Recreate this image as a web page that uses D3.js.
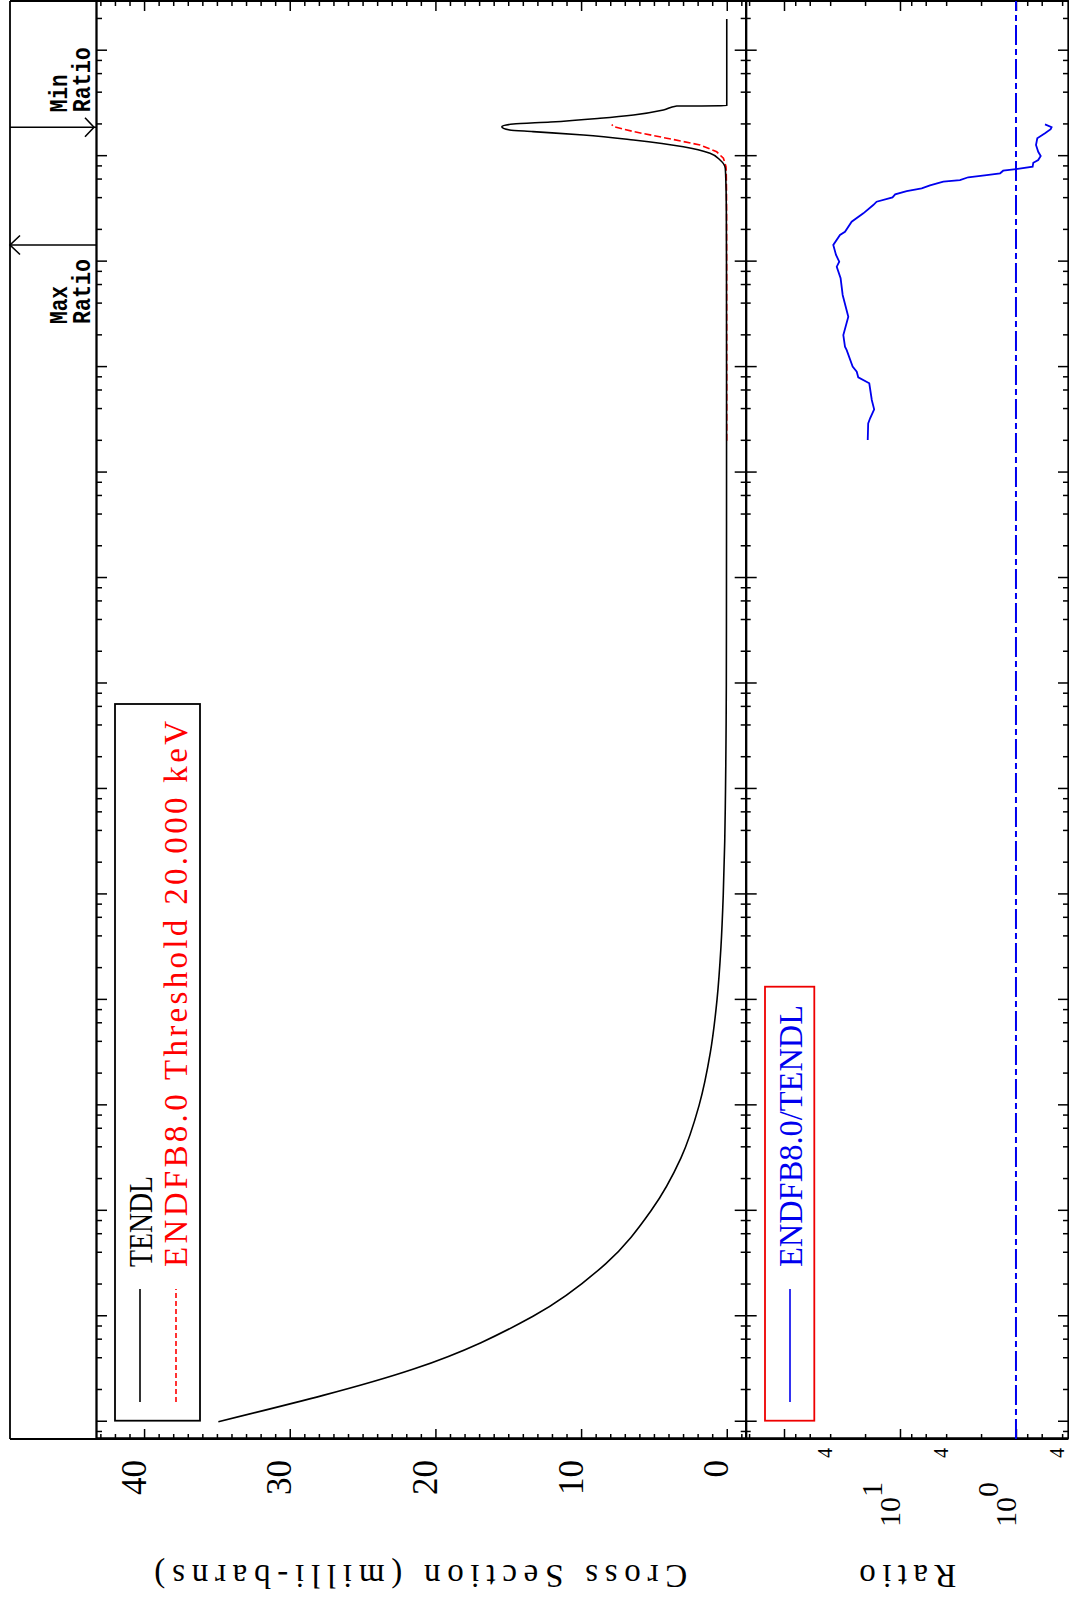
<!DOCTYPE html>
<html>
<head>
<meta charset="utf-8">
<script src="https://cdn.jsdelivr.net/npm/d3@7"></script>
<style>
  html, body { margin: 0; padding: 0; background: #fff; }
  svg { display: block; }
  .ax .domain { stroke: #000; stroke-width: 1.8; }
  .ax .tick line { stroke: #000; stroke-width: 1.5; }
  text { font-family: "Liberation Serif", serif; }
  text.mono { font-family: "Liberation Mono", monospace; font-weight: bold; }
</style>
</head>
<body>
<svg id="chart" width="1069" height="1600"></svg>
<script>
// ---------------- data ----------------
// TENDL cross section (energy in eV, cross section in milli-barns)
const tendlE  = [1e-5, 3.16e-5, 1e-4, 3.16e-4, 1e-3, 3.16e-3, 1e-2, 3.16e-2, 0.1, 0.316, 1, 3.16, 10, 31.6, 100, 1e3, 1e4, 1e5, 1e6, 3e6, 5e6, 7.67e6, 9.2e6, 1.065e7, 1.23e7, 1.425e7, 1.59e7, 1.71e7, 1.77e7, 1.905e7, 2.02e7, 2.11e7, 2.29e7, 2.46e7, 2.74e7, 2.99e7, 3.0e7, 2.0e8];
const tendlXS = [34.9, 21.5, 13.3, 8.3, 5.2, 3.15, 1.9, 1.13, 0.67, 0.4, 0.24, 0.14, 0.085, 0.05, 0.03, 0.02, 0.015, 0.015, 0.02, 0.03, 0.05, 0.1, 0.46, 1.15, 2.98, 6.4, 9.84, 13.3, 14.9, 15.44, 14.65, 12.1, 8.7, 6.4, 4.35, 3.43, 0, 0];

// ENDF/B-VIII.0 cross section (threshold 20 keV)
const endfE  = [2e4, 1e5, 1e6, 3e6, 5e6, 7e6, 7.95e6, 9.55e6, 1.10e7, 1.277e7, 1.48e7, 1.71e7, 1.905e7, 2.0e7];
const endfXS = [0.0, 0.0, 0.005, 0.01, 0.02, 0.035, 0.05, 0.23, 0.69, 1.83, 4.12, 6.4, 7.78, 7.89];

// Ratio ENDF/B-VIII.0 / TENDL
const ratioE = [2.04e4, 2.93e4, 3.27e4, 3.98e4, 4.88e4, 7.02e4, 8.0e4, 9.04e4, 1.01e5, 1.45e5, 1.56e5, 2.01e5, 3.0e5, 4.83e5, 6.95e5, 8.95e5, 9.98e5, 1.156e6, 1.438e6, 1.79e6, 1.92e6, 2.39e6, 2.87e6, 3.44e6, 3.70e6, 4.07e6, 4.35e6, 4.67e6, 4.96e6, 5.29e6, 5.73e6, 5.94e6, 6.31e6, 6.62e6, 6.88e6, 7.28e6, 7.55e6, 7.94e6, 8.67e6, 9.2e6, 1.005e7, 1.10e7, 1.277e7, 1.48e7, 1.65e7, 1.80e7, 1.88e7, 2.0e7];
const ratioV = [18.97, 18.8, 18.1, 16.7, 17.5, 18.4, 22.9, 23.6, 25.6, 28.8, 29.8, 30.8, 27.9, 31.2, 32.5, 35.1, 33.4, 35.6, 37.6, 32.9, 29.8, 26.1, 20.7, 17.0, 15.9, 11.6, 11.0, 8.75, 6.5, 5.51, 4.23, 3.04, 2.58, 1.79, 1.37, 1.29, 1.0, 0.718, 0.709, 0.643, 0.612, 0.643, 0.672, 0.655, 0.562, 0.502, 0.493, 0.562];

// axis tick labels
const csTickLabels = [0, 10, 20, 30, 40];
const ratioFourLabels = [40, 4, 0.4];
const ratioDecadeLabels = [{v: 10, exp: "1"}, {v: 1, exp: "0"}];
const refLine = [1];

// legend texts
const legendTop = [
  {label: "TENDL", color: "#000", dash: null},
  {label: "ENDFB8.0 Threshold 20.000 keV", color: "#ff0000", dash: "5,3"}
];
const legendBottom = [{label: "ENDFB8.0/TENDL", color: "#0000ee", dash: null}];

// ---------------- layout (original landscape frame, then rotated) ----------------
const uL = 161, uR = 1599;        // energy axis extent
const vTop = 10, vPlot = 96, vMid = 745.7, vBot = 1068;

const svg = d3.select("#chart");
const g = svg.append("g").attr("transform", "translate(0,1600) rotate(-90)");

const xE = d3.scaleLog().domain([6.86e-6, 2.96e8]).range([uL, uR]);
const yS = d3.scaleLinear().domain([-1.3, 43.3]).range([vMid, vPlot]);
const yR = d3.scaleLog().domain([0.356, 213.9]).range([vBot, vMid]);

// tick value sets
const eMajor = [], eMinor = [];
for (let k = -6; k <= 8; k++) {
  const d = Math.pow(10, k);
  if (d >= xE.domain()[0] && d <= xE.domain()[1]) eMajor.push(d);
  [2, 4, 6, 8].forEach(m => { const t = m * d; if (t >= xE.domain()[0] && t <= xE.domain()[1]) eMinor.push(t); });
}
const csMajor = d3.range(0, 41, 10), csMinor = d3.range(-1, 44, 1).filter(d => d % 10 !== 0);
const rMajor = [], rMinor = [];
for (let k = -1; k <= 2; k++) {
  const d = Math.pow(10, k);
  if (d >= yR.domain()[0] && d <= yR.domain()[1]) rMajor.push(d);
  [2, 4, 6, 8].forEach(m => { const t = m * d; if (t >= yR.domain()[0] && t <= yR.domain()[1]) rMinor.push(t); });
}

function axisAt(gen, tx, ty) {
  g.append("g").attr("class", "ax").attr("transform", `translate(${tx},${ty})`).call(gen);
}
// energy axes
axisAt(d3.axisTop(xE).tickValues(eMajor).tickSize(-11).tickSizeOuter(0).tickFormat(""), 0, vPlot);
axisAt(d3.axisTop(xE).tickValues(eMinor).tickSize(-6).tickSizeOuter(0).tickFormat(""), 0, vPlot);
axisAt(d3.axisTop(xE).tickValues(eMajor).tickSize(11).tickSizeOuter(0).tickFormat(""), 0, vMid);
axisAt(d3.axisTop(xE).tickValues(eMajor).tickSize(-11).tickSizeOuter(0).tickFormat(""), 0, vMid);
axisAt(d3.axisTop(xE).tickValues(eMinor).tickSize(5).tickSizeOuter(0).tickFormat(""), 0, vMid);
axisAt(d3.axisTop(xE).tickValues(eMinor).tickSize(-5).tickSizeOuter(0).tickFormat(""), 0, vMid);
axisAt(d3.axisBottom(xE).tickValues(eMajor).tickSize(-10).tickSizeOuter(0).tickFormat(""), 0, vBot);
axisAt(d3.axisBottom(xE).tickValues(eMinor).tickSize(-5).tickSizeOuter(0).tickFormat(""), 0, vBot);
// cross-section axes
axisAt(d3.axisLeft(yS).tickValues(csMajor).tickSize(-10).tickSizeOuter(0).tickFormat(""), uL, 0);
axisAt(d3.axisLeft(yS).tickValues(csMinor).tickSize(-5).tickSizeOuter(0).tickFormat(""), uL, 0);
axisAt(d3.axisRight(yS).tickValues(csMajor).tickSize(-10).tickSizeOuter(0).tickFormat(""), uR, 0);
axisAt(d3.axisRight(yS).tickValues(csMinor).tickSize(-5).tickSizeOuter(0).tickFormat(""), uR, 0);
// ratio axes
axisAt(d3.axisLeft(yR).tickValues(rMajor).tickSize(-10).tickSizeOuter(0).tickFormat(""), uL, 0);
axisAt(d3.axisLeft(yR).tickValues(rMinor).tickSize(-5).tickSizeOuter(0).tickFormat(""), uL, 0);
axisAt(d3.axisRight(yR).tickValues(rMajor).tickSize(-10).tickSizeOuter(0).tickFormat(""), uR, 0);
axisAt(d3.axisRight(yR).tickValues(rMinor).tickSize(-5).tickSizeOuter(0).tickFormat(""), uR, 0);

// outer frame
const frame = g.append("g").attr("stroke", "#000").attr("stroke-width", 1.8).attr("fill", "none");
frame.append("line").attr("x1", uL).attr("x2", uR).attr("y1", vTop).attr("y2", vTop);
frame.append("line").attr("x1", uL).attr("x2", uL).attr("y1", vTop).attr("y2", vBot);
frame.append("line").attr("x1", uR).attr("x2", uR).attr("y1", vTop).attr("y2", vBot);

// fit text helper
function fit(sel, len) {
  const n = sel.node().getComputedTextLength();
  sel.attr("textLength", len).attr("lengthAdjust", n > len ? "spacingAndGlyphs" : "spacing");
  return sel;
}

// tick labels
csTickLabels.forEach(d => {
  g.append("text").attr("x", 140).attr("y", yS(d) + 1.5).attr("text-anchor", "end")
    .attr("font-size", 35).text(d);
});
ratioFourLabels.forEach(d => {
  g.append("text").attr("x", 152).attr("y", yR(d) + 1.5).attr("text-anchor", "end")
    .attr("font-size", 20).text("4");
});
ratioDecadeLabels.forEach(d => {
  const t = g.append("text").attr("x", 118).attr("y", yR(d.v)).attr("text-anchor", "end").attr("font-size", 30);
  t.append("tspan").text("10");
  t.append("tspan").attr("dy", -18).text(d.exp);
});

// axis titles
g.append("text").attr("transform", `translate(35,${(vPlot + vMid) / 2}) rotate(-90)`)
  .attr("text-anchor", "middle").attr("font-size", 33).text("Cross Section (milli-barns)")
  .call(s => fit(s, 533));
g.append("text").attr("transform", `translate(35,${(vMid + vBot) / 2 + 1}) rotate(-90)`)
  .attr("text-anchor", "middle").attr("font-size", 33).text("Ratio")
  .call(s => fit(s, 97));

// clip paths
const defs = svg.append("defs");
defs.append("clipPath").attr("id", "clipTop").append("rect")
  .attr("x", uL).attr("y", vPlot).attr("width", uR - uL).attr("height", vMid - vPlot);
defs.append("clipPath").attr("id", "clipBot").append("rect")
  .attr("x", uL).attr("y", vMid).attr("width", uR - uL).attr("height", vBot - vMid);

// curves
const lineCS = d3.line().x(d => xE(d[0])).y(d => yS(d[1]));
const lineR = d3.line().x(d => xE(d[0])).y(d => yR(d[1]));

const topG = g.append("g").attr("clip-path", "url(#clipTop)");
topG.append("path").datum(d3.zip(endfE, endfXS)).attr("d", lineCS)
  .attr("fill", "none").attr("stroke", "#ff0000").attr("stroke-width", 1.6).attr("stroke-dasharray", "7,3");
topG.append("path").datum(d3.zip(tendlE, tendlXS)).attr("d", lineCS.curve(d3.curveMonotoneX))
  .attr("fill", "none").attr("stroke", "#000").attr("stroke-width", 1.6);

const botG = g.append("g").attr("clip-path", "url(#clipBot)");
botG.selectAll(".ref").data(refLine).enter().append("line")
  .attr("x1", uL).attr("x2", uR).attr("y1", d => yR(d)).attr("y2", d => yR(d))
  .attr("stroke", "#0000ee").attr("stroke-width", 2).attr("stroke-dasharray", "20,4,6,4");
botG.append("path").datum(d3.zip(ratioE, ratioV)).attr("d", lineR)
  .attr("fill", "none").attr("stroke", "#0000ee").attr("stroke-width", 1.8);

// max / min ratio markers
const iMax = d3.maxIndex(ratioV), iMin = d3.minIndex(ratioV);
const uMax = xE(ratioE[iMax]), uMin = xE(ratioE[iMin]);
const mk = g.append("g").attr("stroke", "#000").attr("stroke-width", 1.6).attr("fill", "none");
mk.append("line").attr("x1", uMax).attr("x2", uMax).attr("y1", vTop).attr("y2", vPlot);
mk.append("path").attr("d", `M${uMax - 9.5},${vTop + 10}L${uMax},${vTop}L${uMax + 9.5},${vTop + 10}`);
mk.append("line").attr("x1", uMin).attr("x2", uMin).attr("y1", vTop).attr("y2", vPlot);
mk.append("path").attr("d", `M${uMin - 9.5},${vPlot - 11}L${uMin},${vPlot - 2}L${uMin + 9.5},${vPlot - 11}`);

function markText(u, l1, l2) {
  g.append("text").attr("class", "mono").attr("x", u).attr("y", 67)
    .attr("font-size", 26).text(l1).call(s => fit(s, 38));
  g.append("text").attr("class", "mono").attr("x", u).attr("y", 90)
    .attr("font-size", 26).text(l2).call(s => fit(s, 65));
}
markText(uMax - 79, "Max", "Ratio");
markText(uMin + 15, "Min", "Ratio");

// legends
function legend(items, box, stroke, textLens) {
  g.append("rect").attr("x", box.u0).attr("y", box.v0).attr("width", box.u1 - box.u0).attr("height", box.v1 - box.v0)
    .attr("fill", "#fff").attr("stroke", stroke).attr("stroke-width", 1.8);
  items.forEach((it, i) => {
    const v = box.lineV[i];
    g.append("line").attr("x1", 198).attr("x2", 311).attr("y1", v).attr("y2", v)
      .attr("stroke", it.color).attr("stroke-width", 1.6).attr("stroke-dasharray", it.dash);
    g.append("text").attr("x", 333).attr("y", box.baseV[i]).attr("fill", it.color)
      .attr("font-size", 33).text(it.label).call(s => fit(s, textLens[i]));
  });
}
legend(legendTop, {u0: 179.3, u1: 896, v0: 115, v1: 200, lineV: [140, 176], baseV: [151.5, 187]}, "#000", [91, 546]);
legend(legendBottom, {u0: 179.3, u1: 613.3, v0: 765, v1: 814.3, lineV: [790], baseV: [801.5]}, "#ee0000", [262]);
</script>
</body>
</html>
